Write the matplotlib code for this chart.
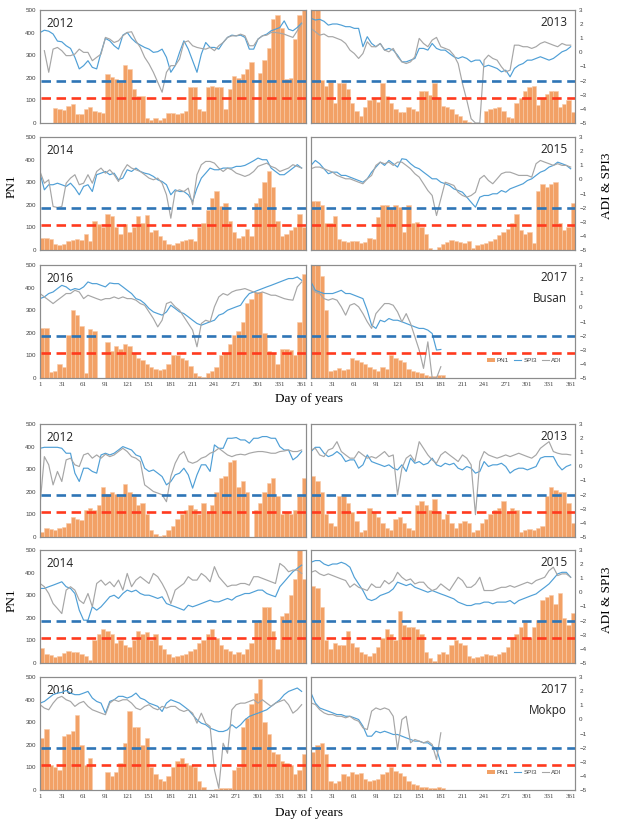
import matplotlib.pyplot as plt
import numpy as np
from matplotlib.patches import Patch
from matplotlib.lines import Line2D

# sampling days (every 6th day of the year)
days = np.arange(1, 362, 6)
days_2017 = np.arange(1, 182, 6)

# ---------------- Busan ----------------
busan_2012_pn1 = [0, 0, 0, 65, 60, 58, 75, 85, 40, 38, 60, 70, 55, 50, 45, 215, 205, 195, 180, 255,
                  240, 150, 120, 120, 20, 15, 20, 15, 20, 45, 45, 40, 45, 55, 160, 160, 60, 55, 160, 165,
                  160, 160, 60, 150, 210, 200, 215, 240, 270, 0, 220, 280, 330, 460, 480, 420, 195, 200, 370, 480, 500]
busan_2012_spi3 = [1.4, 1.57, 1.5, 1.3, 0.8, 0.75, 0.47, 0.28, -0.35, -1.17, -0.94, -0.59, -1.06, -1.17, 0.0, 0.99,
                   0.82, 0.47, 0.23, 1.22, 1.41, 0.99, 0.7, 0.52, 0.35, 0.23, 0.0, 0.05, 0.23, -0.35, -1.41, -0.94,
                   0.0, 0.82, 0.23, -0.59, -1.41, -0.12, 0.7, 0.35, 0.35, 0.23, 0.7, 1.06, 1.22, 1.17, 1.22, 1.06,
                   0.23, 0.23, 0.94, 1.17, 1.29, 1.53, 1.64, 1.76, 2.23, 1.64, 1.53, 1.76, 2.07]
busan_2012_adi = [np.nan, 0.12, -1.41, 0.23, 0.35, 0.12, -0.23, -0.23, -0.12, 0.23, 0.0, 0.0, -0.59, -0.35, -0.12, 1.06,
                  0.94, 0.7, 0.82, 1.17, 1.41, 1.46, 0.82, 0.35, -0.35, -0.82, -1.41, -2.11, -2.82, -1.41, -0.94, -0.94,
                  -0.47, 0.7, 0.82, 0.47, 0.35, 0.28, 0.23, 0.35, 0.12, 0.47, 0.7, 1.06, 1.17, 1.17, 1.29, 1.17,
                  0.47, 0.47, 0.94, 1.17, 1.22, 1.41, 1.41, 1.36, 1.29, 1.17, 1.06, 1.53, 2.0]

busan_2013_pn1 = [500, 500, 190, 165, 180, 90, 175, 175, 150, 90, 55, 30, 70, 100, 110, 95, 175, 120, 90, 60,
                  50, 50, 70, 60, 55, 140, 140, 125, 175, 110, 75, 70, 60, 40, 30, 15, 5, 0, 0, 0,
                  55, 60, 65, 70, 55, 25, 20, 90, 110, 140, 160, 165, 80, 110, 130, 140, 140, 70, 85, 100, 50]
busan_2013_spi3 = [2.41, 2.29, 2.34, 2.2, 1.93, 2.01, 2.01, 1.93, 1.82, 1.82, 1.7, 1.7, 0.4, 1.11, 0.63, 0.4,
                   0.63, 0.16, 0.28, 0.16, -0.2, -0.67, -0.67, -0.55, -0.43, 0.28, 0.28, 0.16, 0.63, 0.28, 0.16, 0.16,
                   -0.08, -0.31, -0.43, -0.31, -0.43, -0.67, -0.55, -0.55, -1.02, -0.91, -1.02, -1.14, -1.38, -1.26,
                   -1.73, -1.14, -0.91, -0.79, -0.55, -0.55, -0.43, -0.31, -0.43, -0.55, -0.43, -0.2, 0.04, 0.16, 0.4]
busan_2013_adi = [1.7, 1.46, 1.22, 1.3, 1.11, 1.11, 0.99, 0.87, 0.63, 0.16, -0.08, -0.43, -0.08, 0.75, 0.4, 0.4,
                  0.63, 0.16, 0.04, 0.28, -0.31, -0.67, -0.79, -0.67, -0.31, 0.99, 0.63, 0.4, 0.87, 1.06, 0.4, 0.28,
                  0.16, -0.2, -0.79, -2.21, -3.39, -4.7, -5.0, -5.0, -0.55, -0.2, -0.43, -0.55, -1.02, -1.38, -1.26,
                  0.51, 0.51, 0.4, 0.4, 0.28, 0.4, 0.63, 0.75, 0.63, 0.51, 0.4, 0.63, 0.51, 0.51]

busan_2014_pn1 = [55, 55, 50, 25, 20, 25, 40, 45, 50, 45, 70, 40, 130, 115, 100, 160, 150, 100, 70, 115,
                  80, 100, 150, 120, 155, 80, 90, 60, 45, 25, 20, 30, 40, 45, 50, 40, 100, 120, 175, 230,
                  260, 195, 210, 130, 80, 55, 60, 95, 60, 210, 230, 300, 350, 280, 130, 60, 70, 90, 100, 160, 100]
busan_2014_spi3 = [0.44, -0.74, -0.38, -0.38, -0.27, -0.38, -0.5, -0.27, -0.62, -1.09, -0.5, -0.38, -0.86, 0.33,
                   0.44, 0.56, 0.33, 0.44, -0.03, 0.09, 0.68, 0.56, 0.8, 0.56, 0.44, 0.37, 0.21, -0.03, -0.15, -0.38,
                   -1.09, -0.74, -0.86, -0.86, -1.09, -1.57, -0.62, 0.09, 0.44, 0.8, 0.68, 0.68, 0.8, 0.8, 0.8, 0.92,
                   0.92, 0.99, 1.15, 1.32, 1.51, 1.39, 1.39, 0.8, 0.56, 0.33, 0.33, 0.56, 0.8, 1.04, 0.8]
busan_2014_adi = [0.56, -0.27, -0.03, -1.92, -1.99, -1.92, -0.27, 0.09, 0.33, -0.38, -0.27, 0.33, -0.27, 0.56, 0.8,
                  0.44, 0.68, 0.33, -0.15, 0.56, 1.04, 0.8, 0.68, 0.56, 0.33, 0.09, -0.03, 0.09, -0.27, -1.09, -2.75,
                  -0.86, -0.74, -0.86, -0.62, -1.8, 0.33, 1.04, 1.27, 1.27, 1.15, 0.8, 0.56, 0.8, 0.68, 0.44, 0.33,
                  0.21, 0.33, 0.56, 0.92, 1.04, 1.15, 0.92, 0.8, 0.56, 0.68, 0.8, 1.04, 0.92, 0.8]

busan_2015_pn1 = [215, 215, 200, 120, 120, 150, 50, 40, 35, 40, 40, 30, 35, 55, 50, 145, 200, 200, 185, 200,
                  190, 80, 200, 120, 125, 100, 70, 10, 0, 15, 25, 35, 45, 40, 35, 30, 40, 10, 20, 25,
                  30, 40, 50, 65, 80, 95, 120, 160, 90, 70, 80, 30, 260, 290, 280, 290, 300, 120, 90, 100, 210]
busan_2015_spi3 = [0.99, 1.34, 1.11, 0.75, 0.4, 0.51, 0.51, 0.28, 0.28, 0.16, 0.04, -0.08, -0.2, 0.04, 0.51, 0.87,
                   1.22, 0.99, 1.34, 1.11, 0.87, 1.46, 1.41, 1.11, 0.87, 0.75, 0.51, 0.28, 0.04, 0.04, -0.2, -0.31,
                   -0.43, -0.67, -0.79, -0.91, -1.26, -1.62, -1.97, -1.26, -1.14, -1.14, -1.02, -1.02, -0.79, -0.91,
                   -0.67, -0.55, -0.43, -0.31, -0.08, 0.04, 0.28, 0.51, 0.63, 0.87, 0.99, 1.22, 1.11, 0.99, 0.75]
busan_2015_adi = [0.75, 0.87, 0.87, 0.75, 0.63, 0.51, 0.28, 0.16, 0.04, 0.04, -0.08, -0.2, -0.31, 0.04, 0.28, 0.99,
                  1.22, 1.11, 1.22, 0.99, 1.22, 1.22, 0.99, 0.75, 0.4, 0.16, -0.31, -0.79, -1.14, -2.56, -1.38, -0.2,
                  -0.31, -0.43, -0.91, -1.14, -1.26, -1.14, -0.91, 0.04, 0.28, -0.08, -0.31, 0.04, 0.4, 0.51, 0.51,
                  0.4, 0.28, 0.28, 0.28, 0.16, 1.11, 1.34, 1.22, 1.11, 0.99, 1.11, 0.99, 0.99, 0.87]

busan_2016_pn1 = [220, 220, 25, 30, 60, 50, 190, 300, 280, 230, 20, 215, 210, 0, 0, 160, 120, 140, 130, 150,
                  140, 110, 90, 80, 60, 50, 40, 35, 40, 60, 100, 100, 90, 80, 55, 20, 10, 5, 20, 30,
                  50, 100, 110, 150, 190, 210, 250, 330, 350, 380, 380, 200, 120, 110, 60, 130, 130, 125, 100, 250, 460]
busan_2016_spi3 = [0.62, 0.74, 0.98, 1.09, 1.33, 1.56, 1.45, 1.21, 1.33, 1.26, 1.45, 1.8, 1.68, 1.68, 1.56, 1.45,
                   1.73, 1.68, 1.68, 1.45, 1.21, 0.98, 0.62, 0.51, 0.27, -0.08, -0.32, -0.44, -0.55, -0.32, 0.15,
                   -0.08, -0.32, -0.44, -0.67, -0.91, -1.14, -1.26, -1.14, -1.02, -0.91, -0.55, -0.44, -0.2, -0.08,
                   0.04, 0.15, 0.62, 0.98, 1.09, 1.21, 1.33, 1.45, 1.56, 1.68, 1.8, 1.92, 2.04, 2.04, 2.15, 1.92]
busan_2016_adi = [0.98, 0.74, 0.51, 0.27, 0.51, 0.74, 0.98, 0.98, 1.21, 1.09, 0.62, 0.86, 0.74, 0.62, 0.51, 0.62,
                  0.62, 0.74, 0.62, 0.74, 0.62, 0.62, 0.51, 0.27, 0.15, -0.32, -0.79, -1.38, -0.91, 0.27, 0.39, 0.04,
                  -0.2, -0.67, -1.14, -1.61, -2.79, -1.14, -0.91, -1.02, 0.04, 0.74, 0.98, 0.86, 1.09, 1.21, 1.26,
                  1.33, 1.21, 1.09, 0.98, 1.09, 0.98, 0.86, 0.86, 0.74, 0.62, 0.55, 0.51, 1.45, 1.8]

busan_2017_pn1 = [500, 500, 450, 300, 30, 35, 45, 35, 40, 90, 80, 70, 60, 50, 40, 30,
                  50, 40, 100, 90, 80, 70, 40, 30, 25, 20, 15, 10, 10, 15, 12]
busan_2017_spi3 = [1.8, 1.21, 1.09, 0.98, 0.98, 0.98, 1.09, 1.21, 0.98, 0.98, 0.86, 0.74, 0.62, -0.2, -1.26, -1.49,
                   -0.91, -1.02, -0.79, -0.91, -0.91, -1.02, -1.14, -1.26, -1.38, -1.49, -1.49, -1.61, -1.85, -3.02, -2.98]
busan_2017_adi = [1.45, 1.09, 0.98, 0.62, 0.51, 0.62, 0.51, 0.04, -0.55, 0.15, 0.27, 0.04, -0.44, -1.02, -1.49, -0.44,
                  -0.08, 0.27, 0.27, 0.15, -0.32, -1.02, -0.44, -1.14, -2.08, -3.02, -4.32, -2.44, -5.0, -5.0, -4.2]

# ---------------- Mokpo ----------------
mokpo_2012_pn1 = [20, 40, 35, 30, 40, 45, 60, 90, 80, 75, 120, 130, 120, 140, 220, 190, 200, 190, 180, 235,
                  200, 180, 140, 150, 100, 30, 15, 5, 10, 30, 50, 80, 100, 120, 140, 125, 100, 150, 110, 140,
                  200, 260, 270, 330, 340, 220, 250, 200, 0, 120, 150, 200, 240, 260, 180, 100, 110, 100, 120, 180, 260]
mokpo_2012_spi3 = [1.28, 1.35, 1.35, 1.35, 1.35, 1.28, 0.93, 0.93, -0.48, -1.07, -0.13, -0.13, -0.36, -0.48, 0.81,
                   0.93, 0.81, 0.93, 1.16, 1.4, 1.28, 1.16, 0.81, 0.69, -0.13, -0.36, -0.25, -0.48, -0.72, -1.31,
                   -1.07, -0.6, -0.48, -0.13, -0.6, -1.54, -0.6, 0.11, 0.11, -0.36, 1.52, 1.28, 1.28, 1.99, 1.99,
                   2.04, 1.87, 1.87, 1.64, 1.99, 1.99, 2.11, 2.11, 1.99, 1.99, 1.4, 1.16, 1.16, 0.46, 0.69, 1.05]
mokpo_2012_adi = [-2.72, 0.69, 0.11, -1.31, -0.36, -1.07, 0.46, 0.58, 0.11, -0.01, 0.81, 0.93, 0.58, 0.81, 0.58,
                  0.86, 0.69, 0.81, 1.05, 1.28, 1.05, 0.69, 0.58, 0.34, -1.31, -1.54, -1.78, -1.89, -2.01, -2.5,
                  -0.72, 0.22, 0.81, 1.05, 0.34, 0.22, 0.34, 0.58, 0.69, 0.93, 1.05, 1.28, 1.05, 0.81, 0.69, 0.81,
                  0.86, 0.81, 0.93, 1.0, 1.05, 1.05, 1.0, 0.93, 0.93, 1.05, 1.09, 1.16, 1.05, 1.05, 1.16]

mokpo_2013_pn1 = [270, 250, 200, 100, 60, 50, 180, 180, 150, 110, 70, 20, 30, 130, 110, 90, 60, 40, 30, 80,
                  90, 60, 40, 30, 140, 160, 140, 120, 170, 110, 80, 100, 60, 40, 60, 70, 60, 20, 30, 60,
                  80, 100, 120, 130, 160, 110, 130, 120, 20, 30, 35, 30, 40, 50, 180, 220, 210, 200, 200, 150, 60]
mokpo_2013_spi3 = [1.05, 1.35, 1.35, 0.93, 0.69, 0.81, 1.05, 0.81, 0.34, 0.46, 0.46, -0.13, 0.11, 0.81, 0.34, 0.22,
                   0.11, -0.01, 0.11, -0.13, -0.25, 0.11, -0.36, 0.58, 0.22, 0.34, 0.11, 0.22, 0.58, 0.11, -0.01,
                   0.22, 0.11, 0.22, -0.13, -0.25, -0.01, -0.13, -0.48, -0.36, 0.34, -0.01, 0.11, 0.11, 0.22, -0.01,
                   -0.48, -0.25, -0.13, -0.13, -0.25, -0.13, -0.01, 0.58, 0.69, 0.69, 0.69, 0.11, -0.25, -0.01, 0.11]
mokpo_2013_adi = [1.16, 1.28, 0.81, 0.69, 1.16, 1.28, 1.75, 1.05, 0.81, 0.58, 0.58, 1.05, 0.81, 0.58, 0.69, 0.58,
                  0.81, 1.05, 0.69, 0.81, -2.01, -0.13, 0.58, 0.81, 0.34, 1.75, 1.28, 0.81, 0.46, 0.22, 0.81, 1.05,
                  0.81, 0.58, 0.34, 0.81, 0.58, 0.11, -3.42, 0.34, 1.05, 0.81, 0.69, 0.58, 0.69, 0.81, 0.69, 0.81,
                  0.93, 0.81, 0.69, 0.58, 0.81, 1.28, 1.52, 1.75, 1.05, 0.93, 0.86, 0.86, 0.81]

mokpo_2014_pn1 = [65, 40, 35, 25, 30, 45, 55, 50, 50, 40, 30, 15, 100, 130, 150, 140, 130, 90, 100, 80,
                  70, 100, 140, 130, 135, 100, 130, 80, 60, 40, 25, 30, 35, 40, 55, 60, 90, 100, 130, 150,
                  110, 80, 60, 55, 40, 50, 40, 60, 90, 180, 190, 250, 250, 140, 60, 210, 220, 300, 370, 500, 370]
mokpo_2014_spi3 = [0.28, 0.28, 0.4, 0.51, 0.63, 0.75, 0.4, 0.28, -0.08, -1.26, -1.97, -1.97, -1.02, -1.26, -1.02,
                   -0.67, -0.31, -0.2, -0.43, -0.08, 0.16, 0.04, 0.16, -0.08, -0.2, -0.2, -0.31, -0.43, -0.31, -0.79,
                   -0.91, -1.02, -1.14, -1.26, -0.91, -1.02, -0.91, -0.79, -0.67, -0.55, -0.67, -0.67, -0.55, -0.43,
                   -0.55, -0.31, -0.2, -0.08, -0.08, 0.04, 0.16, 0.16, -0.08, -0.2, -0.31, 0.4, 0.75, 1.11, 1.46,
                   1.7, 1.93]
mokpo_2014_adi = [0.63, 0.4, -0.08, -0.79, -1.14, -1.5, 0.16, 0.4, 0.16, -0.55, -0.79, -0.08, -1.02, 0.63, 0.87,
                  0.51, 0.75, 0.4, 0.87, 0.16, 1.34, 0.4, 0.87, 1.11, 0.87, 0.63, 1.34, 1.11, 0.63, 0.04, -0.79, 0.16,
                  0.4, 0.63, 1.11, 0.87, 0.87, 1.34, 1.11, 0.75, 1.82, 1.11, 0.75, 0.4, 0.51, 0.51, 0.63, 0.63, 0.51,
                  1.11, 1.11, 0.99, 0.87, 0.75, 0.63, 2.05, 1.82, 1.46, 1.58, 1.58, 1.34]

mokpo_2015_pn1 = [340, 330, 250, 100, 60, 90, 80, 80, 140, 90, 70, 50, 40, 30, 45, 70, 110, 150, 130, 100,
                  230, 170, 160, 160, 150, 130, 50, 20, 10, 40, 50, 40, 80, 100, 90, 80, 30, 20, 25, 30,
                  40, 35, 30, 40, 50, 70, 110, 130, 160, 180, 110, 160, 190, 280, 290, 300, 260, 310, 200, 170, 220]
mokpo_2015_spi3 = [2.13, 2.25, 2.25, 2.01, 1.89, 2.01, 2.01, 2.13, 2.01, 1.78, 1.07, 0.6, 0.13, -0.46, -0.58, -0.46,
                   -0.22, -0.11, 0.01, 0.25, 0.72, 0.6, 0.48, 0.6, 0.36, 0.25, 0.13, 0.01, 0.13, 0.01, -0.11, -0.22,
                   -0.34, -0.46, -0.69, -0.81, -0.93, -0.93, -0.81, -0.81, -0.69, -0.69, -0.81, -0.69, -0.69, -0.69,
                   -0.58, -0.81, -0.58, -0.46, -0.34, -0.22, -0.11, 0.13, 0.36, 0.6, 0.95, 1.31, 1.42, 1.42, 1.07]
mokpo_2015_adi = [1.42, 1.54, 1.31, 1.19, 1.31, 1.19, 1.07, 0.95, 0.84, 0.36, 0.6, 0.36, 0.25, 0.13, 0.6, 0.36, 0.36,
                  0.84, 0.6, 0.84, 1.42, 1.07, 0.84, 0.95, 0.6, 0.72, 0.72, 0.36, 0.13, 0.25, 0.6, 0.36, 0.13, 0.6,
                  1.07, 0.84, 0.36, 0.36, 0.6, 1.07, 0.13, 0.13, 0.13, 0.25, 0.36, 0.36, 0.48, 0.36, 0.48, 0.6, 0.72,
                  0.6, 0.84, 0.95, 1.07, 1.54, 1.78, 1.19, 1.31, 1.31, 1.07]

mokpo_2016_pn1 = [230, 270, 110, 100, 90, 240, 250, 260, 330, 200, 110, 140, 0, 0, 0, 80, 60, 80, 120, 210,
                  350, 280, 280, 200, 230, 100, 70, 50, 40, 60, 100, 130, 140, 120, 110, 100, 40, 15, 0, 0,
                  5, 10, 10, 10, 90, 100, 280, 320, 380, 430, 490, 300, 250, 170, 160, 130, 120, 110, 70, 90, 160]
mokpo_2016_spi3 = [1.15, 1.27, 1.51, 1.75, 1.86, 1.91, 2.05, 1.86, 1.75, 1.75, 1.86, 1.98, 1.51, 1.27, 1.15, 0.44,
                   1.27, 1.39, 1.63, 1.63, 1.51, 1.63, 1.86, 1.51, 1.39, 1.15, 1.04, 0.92, 0.56, 1.15, 1.39, 1.27,
                   1.15, 0.92, 0.68, 0.33, -0.03, -0.27, -0.38, -0.62, -0.74, -0.86, -0.86, -0.74, -0.38, -0.62,
                   -0.38, -0.03, 0.21, 0.33, 0.44, 0.56, 0.68, 0.92, 1.15, 1.39, 1.75, 1.98, 2.1, 2.22, 1.98]
mokpo_2016_adi = [1.04, 0.8, 0.68, 1.15, 1.51, 1.63, 1.39, 1.27, 0.92, 1.15, 1.27, 0.92, 0.68, 0.56, 0.44, 0.33,
                  1.15, 1.39, 1.27, 1.39, 1.39, 1.15, 0.8, 0.68, 0.92, 1.04, 0.8, 0.68, 0.92, 0.8, 0.92, 0.92, 0.68,
                  0.56, 0.68, 0.44, -0.27, 0.44, -0.27, -0.5, -3.58, -4.88, -1.69, -2.4, 0.68, 1.04, 1.15, 1.15,
                  1.27, 1.39, 1.15, 1.39, 1.15, 0.92, 1.15, 1.27, 1.39, 1.04, 0.44, 0.68, 1.04]

mokpo_2017_pn1 = [170, 200, 210, 160, 40, 30, 40, 70, 60, 80, 70, 75, 50, 40, 45, 50,
                  70, 80, 100, 85, 75, 60, 40, 25, 20, 15, 12, 10, 10, 15, 10]
mokpo_2017_spi3 = [1.87, 1.16, 0.81, 0.69, 0.58, 0.46, 0.34, 0.34, 0.22, 0.22, 0.11, -0.01, -0.48, -1.19, -1.19,
                   -0.84, -0.95, -0.84, -0.95, -1.07, -1.07, -1.19, -1.31, -1.42, -1.54, -1.54, -1.66, -1.66, -1.89,
                   -2.13, -3.07]
mokpo_2017_adi = [1.16, 1.05, 0.69, 0.46, 0.34, 0.34, 0.22, 0.22, 0.11, 0.22, -0.01, -0.13, -0.6, -0.72, 0.58, 0.81,
                  0.69, 0.81, 0.69, 0.22, -2.13, -0.01, 0.22, -1.66, -1.42, -1.54, -1.66, -1.54, -1.78, -2.84, -0.95]

# thresholds drawn on the index axis
spi_limit = -2.0
adi_limit = -3.2

BAR = '#F2A166'
BAR_EDGE = '#F8CBA8'
SPI_C = '#4F9FD6'
ADI_C = '#A6A6A6'
FRAME = '#8C8C8C'
TXT = '#404040'

W, H = 621, 819
fig = plt.figure(figsize=(W / 100, H / 100), dpi=100)


def px_rect(x0, y0, x1, y1):
    return [x0 / W, 1 - y1 / H, (x1 - x0) / W, (y1 - y0) / H]


def panel(rect, x, pn1, spi3, adi, year, side, bottom, station=None):
    ax = fig.add_axes(px_rect(*rect))
    ax.bar(x, pn1, width=6, align='edge', color=BAR, edgecolor=BAR_EDGE, linewidth=0.4)
    ax.set_xlim(1, 367)
    ax.set_ylim(0, 500)
    ax.set_yticks(range(0, 501, 100))
    ax.set_xticks(range(1, 362, 30))

    ax2 = ax.twinx()
    ax2.plot(x, spi3, color=SPI_C, lw=0.85)
    ax2.plot(x, adi, color=ADI_C, lw=0.85)
    ax2.set_ylim(-5, 3)
    ax2.set_yticks(range(-5, 4))
    x_end = 374 if side == 'left' else 367
    x_start = 3 if side == 'left' else 1
    for lvl, c in [(spi_limit, '#2E75B6'), (adi_limit, '#FF3A1E')]:
        ax2.plot([x_start, x_end], [lvl, lvl], color=c, lw=1.9, dashes=(3.6, 2.1), clip_on=False)

    for a in (ax, ax2):
        a.tick_params(length=0, labelsize=4.5, colors=TXT, pad=3)
        for sp in a.spines.values():
            sp.set_color(FRAME)
            sp.set_linewidth(0.8)
    for lab in ax.get_yticklabels() + ax2.get_yticklabels():
        lab.set_fontfamily('Liberation Sans')
    for lab in ax.get_xticklabels():
        lab.set_fontfamily('Liberation Serif')
        lab.set_fontsize(5)
    if side == 'left':
        ax2.tick_params(labelright=False)
        ax.text(0.026, 0.88, year, transform=ax.transAxes, fontsize=8.5,
                family='Open Sans', va='center', ha='left', color='#222222')
    else:
        ax.tick_params(labelleft=False)
        ax.text(0.97, 0.885, year, transform=ax.transAxes, fontsize=8.5,
                family='Open Sans', va='center', ha='right', color='#222222')
    if not bottom:
        ax.tick_params(labelbottom=False)
    if station:
        ax.text(0.97, 0.70, station, transform=ax.transAxes, fontsize=8.5,
                family='Open Sans', va='center', ha='right', color='#222222')
        handles = [Patch(facecolor=BAR, edgecolor='none'),
                   Line2D([], [], color=SPI_C, lw=0.8),
                   Line2D([], [], color=ADI_C, lw=0.8)]
        leg = ax2.legend(handles, ['PN1', 'SPI3', 'ADI'], loc='lower right',
                         bbox_to_anchor=(0.97, 0.08), ncol=3, frameon=False,
                         fontsize=4.5, handlelength=1.2, handleheight=0.6,
                         columnspacing=0.8, handletextpad=0.3)
        for t in leg.get_texts():
            t.set_color(TXT)
            t.set_fontfamily('Liberation Sans')
    return ax


cols = [(40, 306), (311, 575)]
groups = [
    ('Busan', [(10, 123), (137, 250), (265, 378)], 399, 186,
     [(busan_2012_pn1, busan_2012_spi3, busan_2012_adi, '2012'),
      (busan_2013_pn1, busan_2013_spi3, busan_2013_adi, '2013'),
      (busan_2014_pn1, busan_2014_spi3, busan_2014_adi, '2014'),
      (busan_2015_pn1, busan_2015_spi3, busan_2015_adi, '2015'),
      (busan_2016_pn1, busan_2016_spi3, busan_2016_adi, '2016'),
      (busan_2017_pn1, busan_2017_spi3, busan_2017_adi, '2017')]),
    ('Mokpo', [(424, 537), (550, 663), (677, 790)], 813, 600,
     [(mokpo_2012_pn1, mokpo_2012_spi3, mokpo_2012_adi, '2012'),
      (mokpo_2013_pn1, mokpo_2013_spi3, mokpo_2013_adi, '2013'),
      (mokpo_2014_pn1, mokpo_2014_spi3, mokpo_2014_adi, '2014'),
      (mokpo_2015_pn1, mokpo_2015_spi3, mokpo_2015_adi, '2015'),
      (mokpo_2016_pn1, mokpo_2016_spi3, mokpo_2016_adi, '2016'),
      (mokpo_2017_pn1, mokpo_2017_spi3, mokpo_2017_adi, '2017')]),
]

for station, rows, xlab_y, ylab_y, series in groups:
    for i, (pn1, spi3, adi, year) in enumerate(series):
        r, c = divmod(i, 2)
        x0, x1 = cols[c]
        y0, y1 = rows[r]
        x = days_2017 if year == '2017' else days
        panel((x0, y0, x1, y1), x, pn1, spi3, adi, year,
              'left' if c == 0 else 'right', r == 2,
              station if year == '2017' else None)
    fig.text(309 / W, 1 - xlab_y / H, 'Day of years', family='Liberation Serif',
             fontsize=9.5, ha='center', va='center')
    fig.text(12 / W, 1 - ylab_y / H, 'PN1', family='Liberation Serif',
             fontsize=9.5, ha='center', va='center', rotation=90)
    fig.text(607 / W, 1 - ylab_y / H, 'ADI & SPI3', family='Liberation Serif',
             fontsize=9.5, ha='center', va='center', rotation=90)

fig.savefig('out.png', dpi=100, facecolor='white')
